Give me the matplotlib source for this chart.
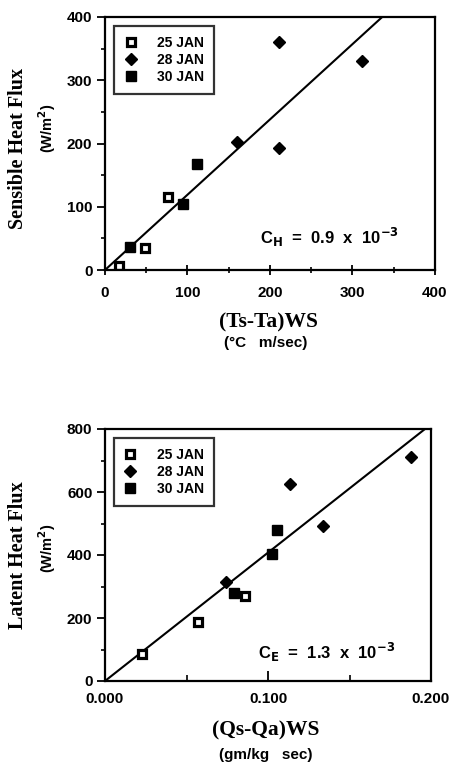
import matplotlib.pyplot as plt
from matplotlib.ticker import MultipleLocator, FormatStrFormatter

# Sensible heat flux panel
sh_25jan_x = [17, 48, 76]
sh_25jan_y = [6, 35, 116]
sh_28jan_x = [160, 211, 211, 311]
sh_28jan_y = [203, 361, 193, 331]
sh_30jan_x = [30, 94, 111]
sh_30jan_y = [36, 105, 167]
sh_fit_x = [0, 336]
sh_fit_y = [0, 400]

# Latent heat flux panel
lh_25jan_x = [0.023, 0.057, 0.086]
lh_25jan_y = [85, 188, 271]
lh_28jan_x = [0.074, 0.1135, 0.1336, 0.1877]
lh_28jan_y = [313, 625, 492, 712]
lh_30jan_x = [0.079, 0.1026, 0.1053]
lh_30jan_y = [280, 402, 478]
lh_fit_x = [0, 0.1963]
lh_fit_y = [0, 800]

W, H = 456, 763
fig = plt.figure(figsize=(W / 100, H / 100), dpi=100)

sans = 'Liberation Sans'
serif = 'Liberation Serif'


def px_axes(x0, y0, x1, y1):
    return fig.add_axes([x0 / W, 1 - y1 / H, (x1 - x0) / W, (y1 - y0) / H])


def ftext(x, y, s, **kw):
    fig.text(x / W, 1 - y / H, s, ha='center', va='center', **kw)


def style(ax, xdir):
    for sp in ax.spines.values():
        sp.set_linewidth(1.6)
    ax.tick_params(axis='y', which='major', direction='out', length=6, width=1.3, pad=3)
    ax.tick_params(axis='y', which='minor', direction='out', length=3, width=1.2)
    ax.tick_params(axis='x', which='major', direction=xdir, length=7, width=1.3, pad=8)
    ax.tick_params(axis='x', which='minor', direction=xdir, length=4, width=1.2)
    ax.tick_params(labelsize=11)
    for lab in ax.get_xticklabels() + ax.get_yticklabels():
        lab.set_fontfamily(sans)
        lab.set_fontweight('bold')


def points(ax, x25, y25, x28, y28, x30, y30):
    ax.plot(x25, y25, 's', ms=5.2, mfc='white', mec='black', mew=2.3, label='25 JAN')
    ax.plot(x28, y28, 'D', ms=6, color='black', label='28 JAN')
    ax.plot(x30, y30, 's', ms=7, color='black', label='30 JAN')
    leg = ax.legend(loc='upper left', frameon=True, fancybox=False,
                    edgecolor='black', handletextpad=1.4, borderpad=0.7,
                    labelspacing=0.22, handlelength=1.0, borderaxespad=0,
                    prop={'family': sans, 'weight': 'bold', 'size': 10},
                    bbox_to_anchor=(0.027, 0.964))
    leg.get_frame().set_linewidth(1.6)


# top panel
ax1 = px_axes(105, 17, 435, 270)
ax1.plot(sh_fit_x, sh_fit_y, color='black', lw=1.5)
points(ax1, sh_25jan_x, sh_25jan_y, sh_28jan_x, sh_28jan_y, sh_30jan_x, sh_30jan_y)
ax1.set_xlim(0, 400)
ax1.set_ylim(0, 400)
ax1.xaxis.set_major_locator(MultipleLocator(100))
ax1.xaxis.set_minor_locator(MultipleLocator(50))
ax1.yaxis.set_major_locator(MultipleLocator(100))
ax1.yaxis.set_minor_locator(MultipleLocator(50))
style(ax1, 'inout')
ax1.text(272, 52, r'C$_\mathbf{H}$  =  0.9  x  10$^\mathbf{-3}$', ha='center', va='center',
         fontfamily=sans, fontweight='bold', fontsize=12)

ftext(18, 148, 'Sensible Heat Flux', rotation=90, fontfamily=serif, fontweight='bold', fontsize=14.5)
ftext(47, 128, '(W/m$^\\mathbf{2}$)', rotation=90, fontfamily=sans, fontweight='bold', fontsize=10.5)
ftext(268, 322, '(Ts-Ta)WS', fontfamily=serif, fontweight='bold', fontsize=15.5)
ftext(266, 343, '(°C   m/sec)', fontfamily=sans, fontweight='bold', fontsize=11)

# bottom panel
ax2 = px_axes(105, 429, 431, 681)
ax2.plot(lh_fit_x, lh_fit_y, color='black', lw=1.5)
points(ax2, lh_25jan_x, lh_25jan_y, lh_28jan_x, lh_28jan_y, lh_30jan_x, lh_30jan_y)
ax2.set_xlim(0, 0.2)
ax2.set_ylim(0, 800)
ax2.xaxis.set_major_locator(MultipleLocator(0.1))
ax2.xaxis.set_minor_locator(MultipleLocator(0.05))
ax2.xaxis.set_major_formatter(FormatStrFormatter('%.3f'))
ax2.yaxis.set_major_locator(MultipleLocator(200))
ax2.yaxis.set_minor_locator(MultipleLocator(100))
style(ax2, 'in')
ax2.text(0.136, 92, r'C$_\mathbf{E}$  =  1.3  x  10$^\mathbf{-3}$', ha='center', va='center',
         fontfamily=sans, fontweight='bold', fontsize=12)

ftext(18, 555, 'Latent Heat Flux', rotation=90, fontfamily=serif, fontweight='bold', fontsize=14.5)
ftext(47, 548, '(W/m$^\\mathbf{2}$)', rotation=90, fontfamily=sans, fontweight='bold', fontsize=10.5)
ftext(266, 730, '(Qs-Qa)WS', fontfamily=serif, fontweight='bold', fontsize=15.5)
ftext(266, 755, '(gm/kg   sec)', fontfamily=sans, fontweight='bold', fontsize=11)

fig.savefig('out.png', dpi=100)
